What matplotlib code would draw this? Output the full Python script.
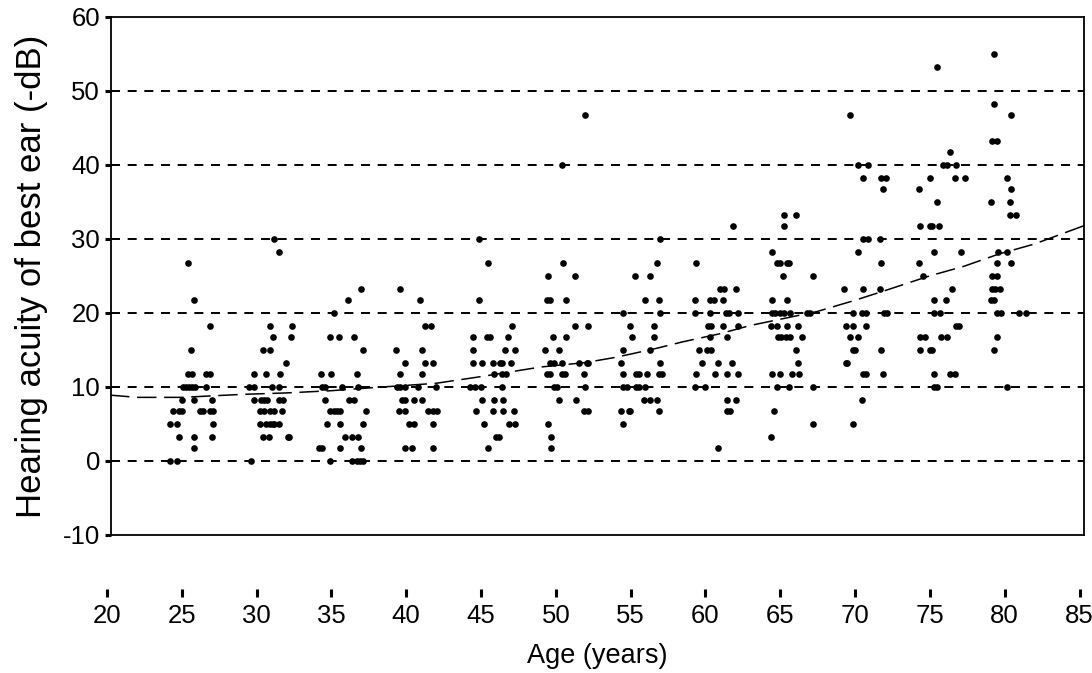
import matplotlib
matplotlib.use("Agg")
import matplotlib.pyplot as plt

# age groups: (age in years, hearing acuity of best ear in -dB)
grp_25 = [(24.2, 0), (24.7, 0), (25.8, 1.7), (24.8, 3.3), (25.8, 3.3), (27.0, 3.3),
          (24.2, 5), (24.7, 5), (27.1, 5), (24.4, 6.7), (24.8, 6.7), (25.0, 6.7),
          (26.2, 6.7), (26.4, 6.7), (26.9, 6.7), (27.1, 6.7), (25.0, 8.3), (25.8, 8.3),
          (27.0, 8.3), (25.1, 10), (25.3, 10), (25.5, 10), (25.7, 10), (25.9, 10),
          (26.6, 10), (25.4, 11.7), (25.7, 11.7), (26.6, 11.7), (26.9, 11.7),
          (25.6, 15), (26.9, 18.3), (25.8, 21.7), (25.4, 26.7)]
grp_30 = [(29.6, 0), (30.4, 3.3), (30.8, 3.3), (32.1, 3.3), (32.2, 3.3),
          (30.2, 5), (30.6, 5), (30.9, 5), (31.1, 5), (31.2, 5), (31.5, 5),
          (30.2, 6.7), (30.5, 6.7), (30.9, 6.7), (31.2, 6.7), (31.7, 6.7),
          (29.8, 8.3), (30.3, 8.3), (30.5, 8.3), (30.7, 8.3), (31.5, 8.3), (31.8, 8.3),
          (29.5, 10), (29.8, 10), (31.0, 10), (31.5, 10), (29.8, 11.7), (30.6, 11.7),
          (31.6, 11.7), (32.0, 13.3), (30.4, 15), (30.9, 15), (31.1, 16.7), (32.3, 16.7),
          (30.9, 18.3), (32.4, 18.3), (31.5, 28.3), (31.2, 30)]
grp_35 = [(34.9, 0), (36.4, 0), (36.7, 0), (36.9, 0), (37.1, 0), (34.2, 1.7), (34.4, 1.7),
          (35.6, 1.7), (37.0, 1.7), (35.9, 3.3), (36.4, 3.3), (36.8, 3.3), (34.7, 5),
          (35.6, 5), (37.1, 5), (34.9, 6.7), (35.2, 6.7), (35.4, 6.7), (35.6, 6.7),
          (37.3, 6.7), (34.6, 8.3), (36.2, 8.3), (36.5, 8.3), (34.4, 10), (34.6, 10),
          (35.7, 10), (36.8, 10), (34.3, 11.7), (35.0, 11.7), (36.7, 11.7), (37.1, 15),
          (34.9, 16.7), (35.5, 16.7), (36.5, 16.7), (35.2, 20), (36.1, 21.7), (37.0, 23.3)]
grp_40 = [(39.9, 1.7), (40.4, 1.7), (41.8, 1.7), (40.2, 5), (40.5, 5), (41.8, 5),
          (39.5, 6.7), (39.9, 6.7), (41.5, 6.7), (41.8, 6.7), (42.1, 6.7), (39.7, 8.3),
          (39.9, 8.3), (40.5, 8.3), (41.1, 8.3), (39.4, 10), (39.6, 10), (39.9, 10),
          (40.8, 10), (42.0, 10), (39.6, 11.7), (41.1, 11.7), (39.9, 13.3), (41.3, 13.3),
          (41.8, 13.3), (39.3, 15), (41.1, 15), (41.3, 18.3), (41.7, 18.3), (40.9, 21.7),
          (39.6, 23.3)]
grp_45 = [(45.5, 1.7), (46.0, 3.3), (46.2, 3.3), (45.2, 5), (46.9, 5), (47.3, 5),
          (44.7, 6.7), (45.8, 6.7), (46.5, 6.7), (47.2, 6.7), (45.1, 8.3), (45.9, 8.3),
          (46.5, 8.3), (44.3, 10), (44.6, 10), (45.0, 10), (46.4, 10), (45.9, 11.7),
          (46.4, 11.7), (46.7, 11.7), (44.5, 13.3), (45.1, 13.3), (45.8, 13.3), (46.3, 13.3),
          (46.4, 13.3), (47.0, 13.3), (44.5, 15), (46.6, 15), (47.3, 15), (44.5, 16.7),
          (45.4, 16.7), (45.6, 16.7), (46.8, 16.7), (47.1, 18.3), (44.9, 21.7),
          (45.5, 26.7), (44.9, 30)]
grp_50 = [(49.7, 1.7), (49.7, 3.3), (49.5, 5), (51.9, 6.7), (52.2, 6.7), (50.2, 8.3),
          (51.4, 8.3), (49.9, 10), (50.1, 10), (52.0, 10), (49.4, 11.7), (49.6, 11.7),
          (50.4, 11.7), (50.6, 11.7), (51.9, 11.7), (49.6, 13.3), (49.9, 13.3), (50.4, 13.3),
          (51.6, 13.3), (52.1, 13.3), (52.2, 13.3), (49.3, 15), (50.2, 15), (49.8, 16.7),
          (50.7, 16.7), (51.3, 18.3), (52.2, 18.3), (49.4, 21.7), (49.6, 21.7),
          (50.7, 21.7), (49.5, 25), (51.3, 25), (50.5, 26.7), (50.4, 40), (52.0, 46.7)]
grp_55 = [(54.5, 5), (54.4, 6.7), (54.9, 6.7), (55.0, 6.7), (56.9, 6.7), (55.9, 8.3),
          (56.3, 8.3), (56.8, 8.3), (54.5, 10), (54.8, 10), (55.4, 10), (55.6, 10),
          (56.0, 10), (54.5, 11.7), (55.4, 11.7), (55.6, 11.7), (56.1, 11.7), (56.9, 11.7),
          (57.1, 11.7), (54.4, 13.3), (57.0, 13.3), (54.5, 15), (56.3, 15), (55.1, 16.7),
          (56.6, 16.7), (55.0, 18.3), (56.6, 18.3), (54.5, 20), (57.0, 20), (56.0, 21.7),
          (56.9, 21.7), (55.3, 25), (56.3, 25), (56.8, 26.7), (57.0, 30)]
grp_60 = [(60.9, 1.7), (61.5, 6.7), (61.7, 6.7), (61.5, 8.3), (62.1, 8.3), (59.3, 10),
          (60.0, 10), (59.4, 11.7), (60.7, 11.7), (61.5, 11.7), (62.2, 11.7), (59.8, 13.3),
          (60.9, 13.3), (61.8, 13.3), (59.6, 15), (60.1, 15), (60.4, 15), (60.3, 16.7),
          (61.5, 16.7), (60.2, 18.3), (60.4, 18.3), (61.2, 18.3), (62.2, 18.3), (59.3, 20),
          (60.3, 20), (61.4, 20), (61.6, 20), (62.2, 20), (59.3, 21.7), (60.3, 21.7),
          (60.6, 21.7), (61.2, 21.7), (61.0, 23.3), (61.3, 23.3), (62.1, 23.3),
          (59.4, 26.7), (61.9, 31.7)]
grp_65 = [(64.4, 3.3), (67.2, 5), (64.6, 6.7), (64.8, 10), (65.6, 10), (67.2, 10),
          (64.5, 11.7), (65.0, 11.7), (65.8, 11.7), (66.3, 11.7), (66.2, 13.3), (66.1, 15),
          (64.9, 16.7), (65.1, 16.7), (65.4, 16.7), (65.7, 16.7), (66.5, 16.7), (64.4, 18.3),
          (64.8, 18.3), (65.5, 18.3), (66.2, 18.3), (64.5, 20), (64.7, 20), (65.0, 20),
          (65.3, 20), (65.7, 20), (66.8, 20), (67.0, 20), (64.5, 21.7), (65.5, 21.7),
          (65.2, 25), (67.2, 25), (64.8, 26.7), (65.0, 26.7), (65.5, 26.7), (65.6, 26.7),
          (64.5, 28.3), (65.3, 31.7), (65.3, 33.3), (66.1, 33.3)]
grp_70 = [(69.9, 5), (70.5, 8.3), (70.6, 11.7), (70.8, 11.7), (71.9, 11.7), (69.4, 13.3),
          (69.5, 13.3), (69.9, 15), (70.0, 15), (71.8, 15), (69.7, 16.7), (70.2, 16.7),
          (69.4, 18.3), (69.9, 18.3), (70.8, 18.3), (69.9, 20), (70.5, 20), (70.8, 20),
          (72.0, 20), (72.2, 20), (69.3, 23.3), (70.6, 23.3), (71.7, 23.3), (71.8, 26.7),
          (70.2, 28.3), (70.6, 30), (70.9, 30), (71.7, 30), (71.9, 36.7), (70.6, 38.3),
          (71.8, 38.3), (72.1, 38.3), (70.2, 40), (70.9, 40), (69.7, 46.7)]
grp_75 = [(75.3, 10), (75.5, 10), (75.3, 11.7), (76.4, 11.7), (76.7, 11.7), (74.4, 15),
          (75.05, 15), (75.2, 15), (74.4, 16.7), (74.7, 16.7), (75.8, 16.7), (76.2, 16.7),
          (76.8, 18.3), (77.0, 18.3), (75.3, 20), (75.7, 20), (75.3, 21.7), (76.1, 21.7),
          (76.5, 23.3), (74.6, 25), (74.3, 26.7), (75.3, 28.3), (77.1, 28.3), (74.4, 31.7),
          (75.05, 31.7), (75.2, 31.7), (75.65, 31.7), (75.5, 35), (74.3, 36.7),
          (75.05, 38.3), (76.7, 38.3), (77.4, 38.3), (75.9, 40), (76.2, 40), (76.8, 40),
          (76.4, 41.7), (75.5, 53.3)]
grp_80 = [(80.2, 10), (79.3, 15), (79.5, 16.7), (79.5, 20), (79.8, 20), (81.0, 20),
          (81.5, 20), (79.1, 21.7), (79.3, 21.7), (79.2, 23.3), (79.4, 23.3), (79.7, 23.3),
          (79.2, 25), (79.5, 25), (79.5, 26.7), (80.5, 26.7), (79.6, 28.3), (80.2, 28.3),
          (80.4, 33.3), (80.8, 33.3), (79.1, 35), (80.4, 35), (80.5, 36.7), (80.2, 38.3),
          (79.2, 43.3), (79.5, 43.3), (80.5, 46.7), (79.3, 48.3), (79.3, 55)]
groups = [grp_25, grp_30, grp_35, grp_40, grp_45, grp_50,
          grp_55, grp_60, grp_65, grp_70, grp_75, grp_80]

# dashed trend curve
trend_age = [20.2, 22, 25, 29, 32, 35, 37, 42, 45, 49, 52, 54, 56.5, 58.5,
             61, 63, 67.5, 70, 72, 75, 77.3, 79.7, 82, 85.35]
trend_db = [8.9, 8.6, 8.6, 9.0, 9.2, 9.5, 9.8, 10.5, 11.4, 12.7, 13.3, 14.0, 15.1, 16.1,
            17.2, 18.3, 20.2, 21.7, 23.0, 25.0, 26.3, 28.0, 29.3, 31.8]

x_ticks = list(range(20, 90, 5))
y_ticks = list(range(-10, 70, 10))
grid_levels = [0, 10, 20, 30, 40, 50]

plt.rcParams["font.family"] = ["Liberation Sans", "DejaVu Sans"]
plt.rcParams["axes.unicode_minus"] = False
plt.rcParams["lines.scale_dashes"] = False

W, H = 1092, 673
fig = plt.figure(figsize=(W / 100, H / 100), dpi=100)

# main plotting box
left, right, top, bottom = 110.5, 1084, 17, 535
ax = fig.add_axes([left / W, 1 - bottom / H, (right - left) / W, (bottom - top) / H])
ax.set_xlim(20.23, 85.35)
ax.set_ylim(-10, 60)
for s in ax.spines.values():
    s.set_linewidth(1.3)
ax.set_xticks([])
ax.set_yticks(y_ticks)
ax.tick_params(axis="y", direction="out", length=4.5, width=2.2, pad=3, labelsize=18.5)

for lvl in grid_levels:
    ax.axhline(lvl, color="black", lw=1.4, dashes=(6.5, 5.5), zorder=1)

for grp in groups:
    ax.plot([p[0] for p in grp], [p[1] for p in grp], "o", color="black",
            ms=4.8, mew=0, zorder=3)

ax.plot(trend_age, trend_db, color="black", lw=1.1, dashes=(14, 5.5), zorder=2)

# detached age axis below the box
x0, x1, ya = 107, 1079.5, 589
xax = fig.add_axes([x0 / W, 1 - ya / H, (x1 - x0) / W, 0.0001])
xax.set_xlim(20, 85)
xax.set_xticks(x_ticks)
xax.set_yticks([])
xax.patch.set_visible(False)
for s in xax.spines.values():
    s.set_visible(False)
xax.tick_params(axis="x", direction="out", length=5.8, width=2.2, pad=5, labelsize=18.5)

fig.text(597 / W, 1 - 656 / H, "Age (years)", ha="center", va="center", fontsize=19.5)
fig.text(32 / W, 1 - 276 / H, "Hearing acuity of best ear (-dB)", ha="center",
         va="center", rotation=90, fontsize=25)

fig.savefig("out.png", dpi=100)
